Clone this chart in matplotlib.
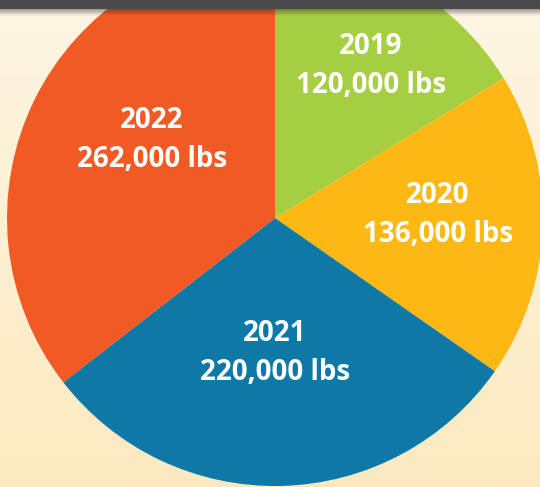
import matplotlib
matplotlib.use("Agg")
import matplotlib.pyplot as plt
import numpy as np
from matplotlib.colors import LinearSegmentedColormap

plt.rcParams['font.family'] = ['Open Sans', 'DejaVu Sans']

# data
years = ['2019', '2020', '2021', '2022']
pounds = [120000, 136000, 220000, 262000]
colors = ['#a6ce42', '#fdb813', '#0e79a6', '#f15a24']
# label placement (polar, relative to pie centre)
label_ang = [58.2, 1.9, -90.0, 146.8]
label_r = [0.680, 0.609, 0.496, 0.549]

W, H = 540, 487
fig = plt.figure(figsize=(W / 100, H / 100), dpi=100)
ax = fig.add_axes([0, 0, 1, 1])

# cream background gradient
bg = LinearSegmentedColormap.from_list('bg', ['#fde9c0', '#fdf6e3'])
grad = np.linspace(0, 1, 256).reshape(-1, 1)
ax.imshow(grad, cmap=bg, extent=[0, W, 0, H], origin='lower', aspect='auto', zorder=0)

cx, cy, R = 275, H - 218, 268
wedges, _ = ax.pie(pounds, colors=colors, startangle=90, counterclock=False,
                   center=(cx, cy), radius=R, frame=True,
                   wedgeprops=dict(linewidth=0, zorder=1))
ax.set_xlim(0, W)
ax.set_ylim(0, H)
ax.set_aspect('equal')
ax.axis('off')

gap = 39  # distance between the two text lines (px)
for yr, val, a, f in zip(years, pounds, label_ang, label_r):
    x = cx + f * R * np.cos(np.deg2rad(a))
    y = cy + f * R * np.sin(np.deg2rad(a))
    ax.text(x, y + gap / 2 - 10, yr, ha='center', va='baseline', color='white',
            fontsize=20, fontweight='bold', zorder=3)
    ax.text(x, y - gap / 2 - 10, f"{val:,} lbs", ha='center', va='baseline', color='white',
            fontsize=20, fontweight='bold', zorder=3)

# dark bar at top with shadow
ax.add_patch(plt.Rectangle((0, H - 9), W, 9, color='#4a4a4c', zorder=5, linewidth=0))
shadow = np.zeros((32, 1, 4))
shadow[..., :3] = 0.15
shadow[:, 0, 3] = np.linspace(0.0, 0.45, 32)
ax.imshow(shadow, extent=[0, W, H - 16, H - 9], origin='lower', aspect='auto', zorder=4)

fig.savefig('out.png', dpi=100)
plt.close(fig)
